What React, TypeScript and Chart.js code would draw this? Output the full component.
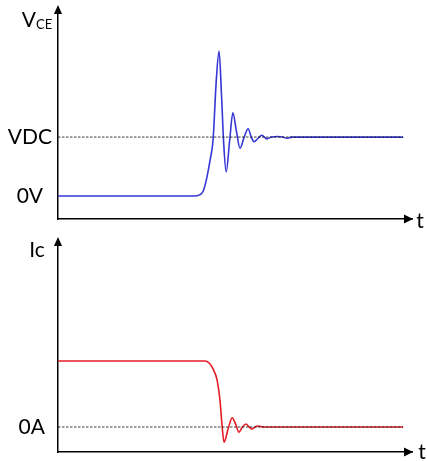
import React, { useEffect, useRef } from "react";
import { Chart, registerables } from "chart.js";

Chart.register(...registerables);

// Time axis in arbitrary units (0..100)
const vceTime = [0, 38.5, 40, 41, 42, 43, 43.8, 44.7, 45.5, 46.2, 46.8, 47.5, 48.5, 49.4, 50.4, 51.4, 52.6, 53.7, 54.6, 55.4, 56.5, 57.6, 58.3, 59.0, 60.3, 62, 63.5, 64.6, 66, 97.5];
const vceValues = [0, 0, 0.02, 0.08, 0.3, 0.62, 0.95, 1.95, 2.46, 1.7, 0.9, 0.41, 0.95, 1.41, 1.1, 0.81, 1.0, 1.14, 1.0, 0.92, 0.98, 1.03, 1.0, 0.97, 1.0, 1.01, 1.0, 0.98, 1.0, 1.0];

const icTime = [0, 41.5, 42.7, 43.8, 44.9, 45.8, 46.3, 46.9, 48.1, 49.2, 50.2, 51.1, 52.1, 53.1, 54.0, 54.8, 55.7, 56.5, 58, 97.5];
const icValues = [1, 1, 0.97, 0.88, 0.72, 0.38, 0.05, -0.23, -0.02, 0.14, 0.04, -0.08, 0, 0.045, 0, -0.03, 0, 0.015, 0, 0];

const refTime = [0, 97.5];
const vceRef = [1, 1];
const icRef = [0, 0];

const vceTickValues = [0, 1];
const vceTickLabels = ["0V", "VDC"];
const icTickValues = [0];
const icTickLabels = ["0A"];

const FONT = "Lato, 'Open Sans', sans-serif";

const toPoints = (xs: number[], ys: number[]) => xs.map((x, i) => ({ x, y: ys[i] }));

function axisPlugin(title: string, sub: string, titleBaseline: number, titleX: number, tBaseline: number, tX: number) {
  return {
    id: "axisArrows",
    afterDraw(chart: any) {
      const { ctx, chartArea } = chart;
      const { left, top, right, bottom } = chartArea;
      ctx.save();
      ctx.fillStyle = "#000";
      // y arrow
      ctx.beginPath();
      ctx.moveTo(left, top - 3);
      ctx.lineTo(left - 4, top + 6);
      ctx.lineTo(left + 4, top + 6);
      ctx.closePath();
      ctx.fill();
      // x arrow
      ctx.beginPath();
      ctx.moveTo(right + 1, bottom);
      ctx.lineTo(right - 8, bottom - 4.5);
      ctx.lineTo(right - 8, bottom + 4.5);
      ctx.closePath();
      ctx.fill();
      // titles
      ctx.textBaseline = "alphabetic";
      ctx.font = `21px ${FONT}`;
      ctx.textAlign = "left";
      const w = ctx.measureText(title).width;
      let totalW = w;
      if (sub) {
        ctx.font = `13px ${FONT}`;
        totalW += ctx.measureText(sub).width;
      }
      const startX = titleX - totalW / 2;
      ctx.font = `21px ${FONT}`;
      ctx.fillText(title, startX, titleBaseline);
      if (sub) {
        ctx.font = `13px ${FONT}`;
        ctx.fillText(sub, startX + w, titleBaseline + 2);
      }
      ctx.font = `21px ${FONT}`;
      ctx.textAlign = "center";
      ctx.fillText("t", tX, tBaseline);
      ctx.restore();
    },
  };
}

function makeConfig(opts: {
  curve: { x: number; y: number }[];
  ref: { x: number; y: number }[];
  color: string;
  yMin: number;
  yMax: number;
  tickValues: number[];
  tickLabels: string[];
  tickPadding: number;
  padTop: number;
  xHeight: number;
  plugin: any;
  label: string;
}) {
  return {
    type: "line",
    data: {
      datasets: [
        {
          label: opts.label,
          data: opts.curve,
          borderColor: opts.color,
          borderWidth: 1.6,
          pointRadius: 0,
          cubicInterpolationMode: "monotone",
          fill: false,
          order: 1,
        },
        {
          label: "ref",
          data: opts.ref,
          borderColor: "rgba(25,25,25,0.85)",
          borderWidth: 1,
          borderDash: [2.5, 1.5],
          pointRadius: 0,
          fill: false,
          order: 0,
        },
      ],
    },
    options: {
      animation: false,
      responsive: false,
      events: [],
      layout: { padding: { left: 0, right: 15, top: opts.padTop, bottom: 0 } },
      plugins: { legend: { display: false }, tooltip: { enabled: false }, title: { display: false } },
      scales: {
        x: {
          type: "linear",
          min: 0,
          max: 100,
          ticks: { display: false },
          grid: { drawOnChartArea: false, drawTicks: false },
          border: { color: "#000", width: 1.5 },
          afterFit: (s: any) => {
            s.height = opts.xHeight;
            s.paddingLeft = 0;
            s.paddingRight = 0;
          },
        },
        y: {
          type: "linear",
          min: opts.yMin,
          max: opts.yMax,
          afterBuildTicks: (s: any) => {
            s.ticks = opts.tickValues.map((v) => ({ value: v }));
          },
          ticks: {
            callback: (v: number) => {
              const i = opts.tickValues.indexOf(v);
              return i >= 0 ? opts.tickLabels[i] : "";
            },
            font: { family: FONT, size: 21 },
            color: "#000",
            padding: opts.tickPadding,
            crossAlign: "center",
          },
          grid: { drawOnChartArea: false, drawTicks: false },
          border: { color: "#000", width: 1.5 },
          afterFit: (s: any) => {
            s.width = 58;
            s.paddingTop = 0;
            s.paddingBottom = 0;
          },
        },
      },
    },
    plugins: [opts.plugin],
  };
}

export default function App() {
  const topRef = useRef<HTMLCanvasElement>(null);
  const botRef = useRef<HTMLCanvasElement>(null);

  useEffect(() => {
    let top: Chart | null = null;
    let bot: Chart | null = null;
    let cancelled = false;
    const build = () => {
      if (cancelled) return;
      top = new Chart(
        topRef.current as HTMLCanvasElement,
        makeConfig({
          curve: toPoints(vceTime, vceValues),
          ref: toPoints(refTime, vceRef),
          color: "rgb(55,55,215)",
          yMin: -0.39,
          yMax: 3.19,
          tickValues: vceTickValues,
          tickLabels: vceTickLabels,
          tickPadding: 6,
          padTop: 8,
          xHeight: 11,
          plugin: axisPlugin("V", "CE", 27, 37, 228, 420),
          label: "VCE",
        }) as any
      );
      bot = new Chart(
        botRef.current as HTMLCanvasElement,
        makeConfig({
          curve: toPoints(icTime, icValues),
          ref: toPoints(refTime, icRef),
          color: "rgb(228,28,36)",
          yMin: -0.379,
          yMax: 2.833,
          tickValues: icTickValues,
          tickLabels: icTickLabels,
          tickPadding: 13,
          padTop: 10,
          xHeight: 9,
          plugin: axisPlugin("Ic", "", 27, 37, 229, 422),
          label: "Ic",
        }) as any
      );
    };
    const fonts: any = (document as any).fonts;
    if (fonts && fonts.load) {
      Promise.all([fonts.load("21px Lato"), fonts.load("13px Lato")]).then(build, build);
    } else {
      build();
    }
    return () => {
      cancelled = true;
      if (top) top.destroy();
      if (bot) bot.destroy();
    };
  }, []);

  return (
    <div style={{ position: "absolute", left: 0, top: 0, width: 427, height: 461, background: "#fff" }}>
      <canvas ref={topRef} width={427} height={230} style={{ position: "absolute", left: 0, top: 0 }} />
      <canvas ref={botRef} width={427} height={231} style={{ position: "absolute", left: 0, top: 230 }} />
    </div>
  );
}
